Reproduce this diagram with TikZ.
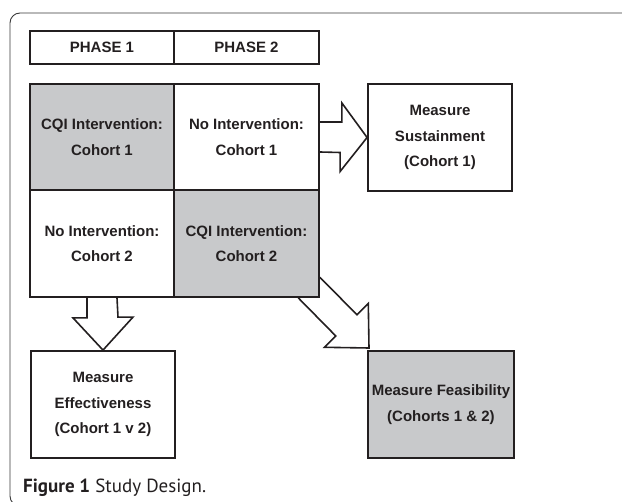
\documentclass[tikz,border=0pt]{standalone}
\usepackage{fontspec}
\setmainfont{Liberation Sans}
\newfontfamily\capfont{PT Sans}
\usetikzlibrary{calc}
\definecolor{ink}{HTML}{231F20}
\definecolor{cellgray}{HTML}{C8C9CB}
\definecolor{framegray}{HTML}{3A3A3A}
\tikzset{
  cell/.style={draw=ink, line width=1.8pt, inner sep=0pt, align=center,
    text=ink, font=\fontsize{15}{25.5}\selectfont\bfseries},
  graycell/.style={cell, fill=cellgray},
  hollow/.style={draw=ink, line width=1.6pt, line join=miter},
}
\begin{document}
\begin{tikzpicture}[x=1pt,y=-1pt]
\useasboundingbox (0,0) rectangle (622,502);
% frame
\draw[framegray, line width=0.9pt, rounded corners=10pt] (640,13) -- (10,13) -- (10,506) -- (640,506);
% phase header
\node[cell, minimum width=144pt, minimum height=33pt] (p1) at (102,47.5) {PHASE 1};
\node[cell, minimum width=145pt, minimum height=33pt] (p2) at (246.5,47.5) {PHASE 2};
% grid
\node[graycell, minimum width=144pt, minimum height=106pt] (c11) at (102,137) {CQI Intervention:\\Cohort 1};
\node[cell, minimum width=145pt, minimum height=106pt] (c12) at (246.5,137) {No Intervention:\\Cohort 1};
\node[cell, minimum width=144pt, minimum height=107pt] (c21) at (102,243.5) {No Intervention:\\Cohort 2};
\node[graycell, minimum width=145pt, minimum height=107pt] (c22) at (246.5,243.5) {CQI Intervention:\\Cohort 2};
% outcome boxes
\node[cell, minimum width=144pt, minimum height=107pt] (sus) at (440,137.5) {Measure\\Sustainment\\(Cohort 1)};
\node[cell, minimum width=144pt, minimum height=107pt] (eff) at (103,404.5) {Measure\\Effectiveness\\(Cohort 1 v 2)};
\node[graycell, minimum width=146pt, minimum height=107pt] (fea) at (441,404.5) {Measure Feasibility\\(Cohorts 1 \& 2)};
% right arrow
\draw[hollow] ($(c12.east)+(0,-15)$) -- ++(22,0) -- ++(0,-19) -- (sus.west)
  -- ($(sus.west)+(-27,34)$) -- ++(0,-19) -- ($(c12.east)+(0,15)$);
% down arrow
\draw[hollow] ($(c21.south)+(-15,0)$) -- ++(0,20) -- ++(-14,0) -- (eff.north)
  -- ($(eff.north)+(30,-33)$) -- ++(-15,0) -- ($(c21.south)+(15,0)$);
% diagonal arrow
\coordinate (dg) at (c22.south east);
\draw[hollow] ($(dg)+(0,-20.6)$) -- ($(dg)+(37.1,16.9)$) -- ($(dg)+(48.4,5.6)$)
  -- ($(dg)+(49.1,50.1)$) -- ($(dg)+(4.6,49.4)$) -- ($(dg)+(15.9,38.1)$) -- ($(dg)+(-21.6,0)$);
% caption
\node[anchor=base west, inner sep=0pt, text=ink, font=\capfont\fontsize{19}{21}\selectfont] (cap) at (23,493)
  {\textbf{Figure 1} Study Design.};
\end{tikzpicture}
\end{document}
